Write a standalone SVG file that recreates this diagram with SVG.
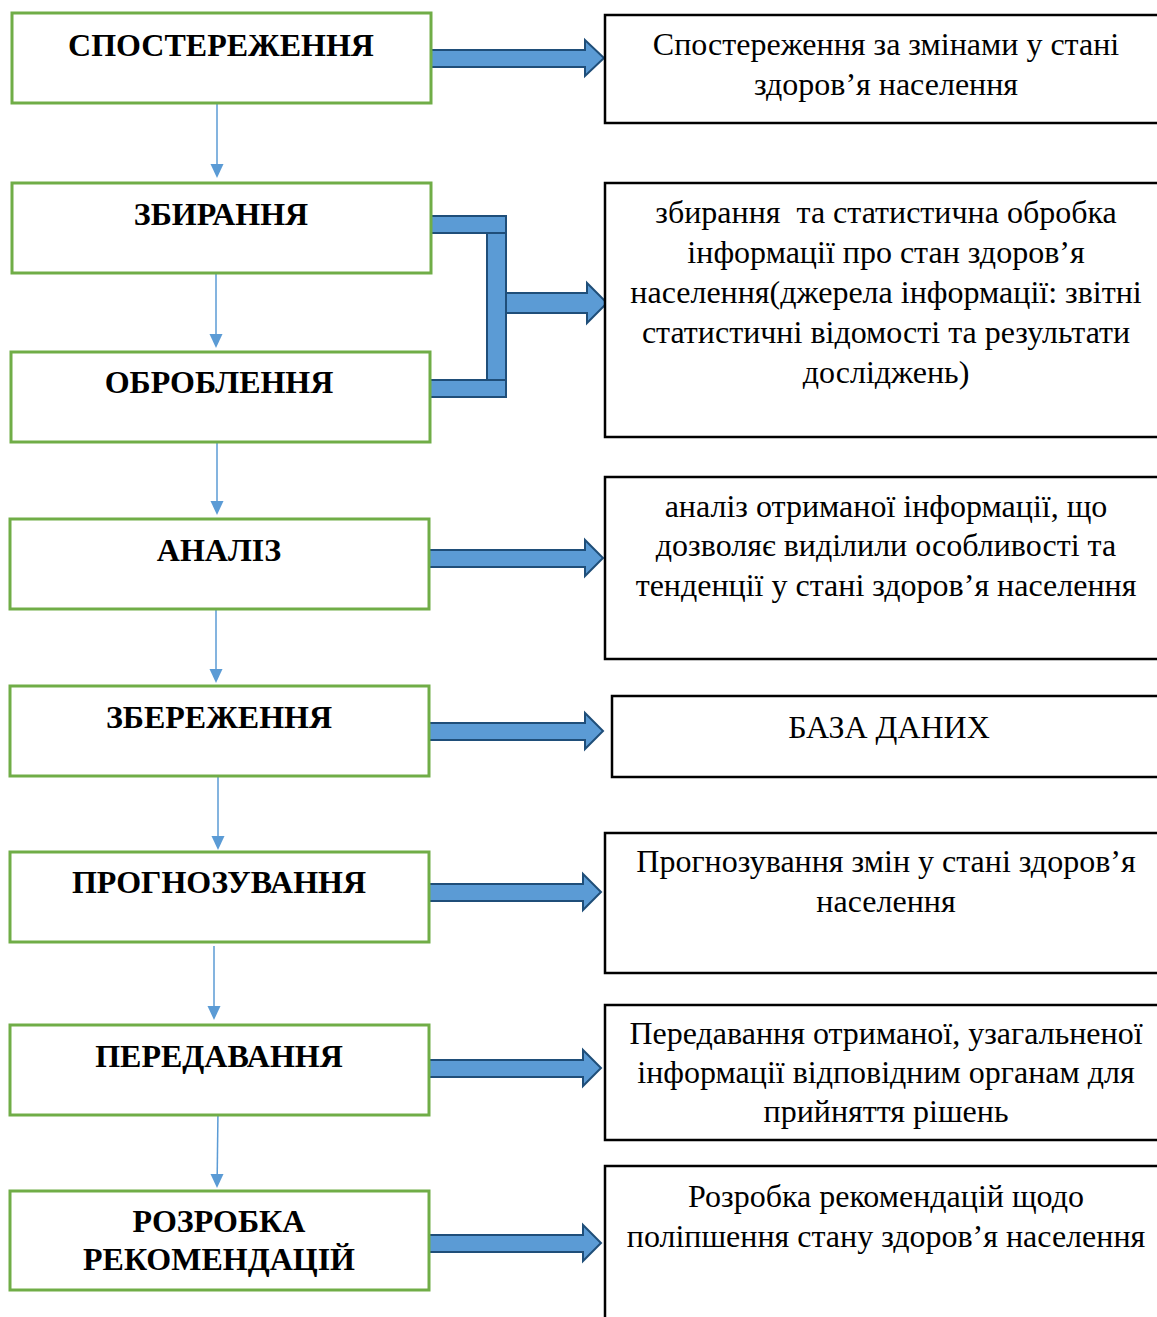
<svg xmlns="http://www.w3.org/2000/svg" width="1157" height="1317" viewBox="0 0 1157 1317">
<style>
.lb{fill:#fff;stroke:#70ad47;stroke-width:3}
.rb{fill:#fff;stroke:#000;stroke-width:2.5}
.lt{font-family:"Liberation Serif","Times New Roman",serif;font-weight:bold;font-size:32px;fill:#000;text-anchor:middle}
.rt{font-family:"Liberation Serif","Times New Roman",serif;font-size:32px;fill:#000;text-anchor:middle}
.ba{fill:#5b9bd5;stroke:#1f4e79;stroke-width:2;stroke-linejoin:miter}
.tl{stroke:#5b9bd5;stroke-width:1.5;fill:none}
.th{fill:#5b9bd5}
</style>
<rect width="1157" height="1317" fill="#fff"/>
<g id="connectors">
<path class="tl" d="M217 103V165"/><path class="th" d="M210.5 164H223.5L217 178Z"/>
<path class="tl" d="M216 273V335"/><path class="th" d="M209.5 334H222.5L216 348Z"/>
<path class="tl" d="M217 442V502"/><path class="th" d="M210.5 501H223.5L217 515Z"/>
<path class="tl" d="M216 609V670"/><path class="th" d="M209.5 669H222.5L216 683Z"/>
<path class="tl" d="M218 776V837"/><path class="th" d="M211.5 836H224.5L218 850Z"/>
<path class="tl" d="M214 946V1007"/><path class="th" d="M207.5 1006H220.5L214 1020Z"/>
<path class="tl" d="M218 1110L217.2 1175"/><path class="th" d="M210.5 1174H223.5L217 1188Z"/>
<path class="ba" d="M431 50H585V40L604 58L585 76V67H431Z"/>
<path class="ba" d="M431 216H506V233H431Z"/>
<path class="ba" d="M430 380H506V397H430Z"/>
<path class="ba" d="M487 233H506V380H487Z"/>
<path class="ba" d="M506 293H587V283L607 303L587 323V313H506Z"/>
<path class="ba" d="M429 550H585V540L603 558L585 576V567H429Z"/>
<path class="ba" d="M429 723H585V713L603 731L585 749V740H429Z"/>
<path class="ba" d="M428 884H583V874L601 892L583 910V901H428Z"/>
<path class="ba" d="M428 1060H583V1050L601 1068L583 1086V1077H428Z"/>
<path class="ba" d="M428 1235H583V1225L601 1243L583 1261V1252H428Z"/>
</g>
<g id="n1"><rect class="lb" x="12" y="13" width="419" height="90"/><text class="lt" x="221" y="56">СПОСТЕРЕЖЕННЯ</text></g>
<g id="n2"><rect class="lb" x="12" y="183" width="419" height="90"/><text class="lt" x="221" y="225">ЗБИРАННЯ</text></g>
<g id="n3"><rect class="lb" x="11" y="352" width="419" height="90"/><text class="lt" x="219" y="393">ОБРОБЛЕННЯ</text></g>
<g id="n4"><rect class="lb" x="10" y="519" width="419" height="90"/><text class="lt" x="219" y="561">АНАЛІЗ</text></g>
<g id="n5"><rect class="lb" x="10" y="686" width="419" height="90"/><text class="lt" x="219" y="728">ЗБЕРЕЖЕННЯ</text></g>
<g id="n6"><rect class="lb" x="10" y="852" width="419" height="90"/><text class="lt" x="219" y="893">ПРОГНОЗУВАННЯ</text></g>
<g id="n7"><rect class="lb" x="10" y="1025" width="419" height="90"/><text class="lt" x="219" y="1067">ПЕРЕДАВАННЯ</text></g>
<g id="n8"><rect class="lb" x="10" y="1191" width="419" height="99"/><text class="lt" x="219" y="1232">РОЗРОБКА</text><text class="lt" x="219" y="1270">РЕКОМЕНДАЦІЙ</text></g>
<g id="r1"><rect class="rb" x="605" y="15" width="560" height="108"/><text class="rt" x="886" y="55">Спостереження за змінами у стані</text><text class="rt" x="886" y="95">здоров’я населення</text></g>
<g id="r2"><rect class="rb" x="605" y="183" width="560" height="254"/><text class="rt" x="886" y="223" xml:space="preserve">збирання  та статистична обробка</text><text class="rt" x="886" y="263">інформації про стан здоров’я</text><text class="rt" x="886" y="303">населення(джерела інформації: звітні</text><text class="rt" x="886" y="343">статистичні відомості та результати</text><text class="rt" x="886" y="383">досліджень)</text></g>
<g id="r3"><rect class="rb" x="605" y="477" width="560" height="182"/><text class="rt" x="886" y="517">аналіз отриманої інформації, що</text><text class="rt" x="886" y="556">дозволяє виділили особливості та</text><text class="rt" x="886" y="596">тенденції у стані здоров’я населення</text></g>
<g id="r4"><rect class="rb" x="612" y="696" width="560" height="81"/><text class="rt" x="889" y="738">БАЗА ДАНИХ</text></g>
<g id="r5"><rect class="rb" x="605" y="833" width="560" height="140"/><text class="rt" x="886" y="872">Прогнозування змін у стані здоров’я</text><text class="rt" x="886" y="912">населення</text></g>
<g id="r6"><rect class="rb" x="605" y="1005" width="560" height="135"/><text class="rt" x="886" y="1044">Передавання отриманої, узагальненої</text><text class="rt" x="886" y="1083">інформації відповідним органам для</text><text class="rt" x="886" y="1122">прийняття рішень</text></g>
<g id="r7"><rect class="rb" x="605" y="1166" width="560" height="170"/><text class="rt" x="886" y="1207">Розробка рекомендацій щодо</text><text class="rt" x="886" y="1247">поліпшення стану здоров’я населення</text></g>
</svg>
